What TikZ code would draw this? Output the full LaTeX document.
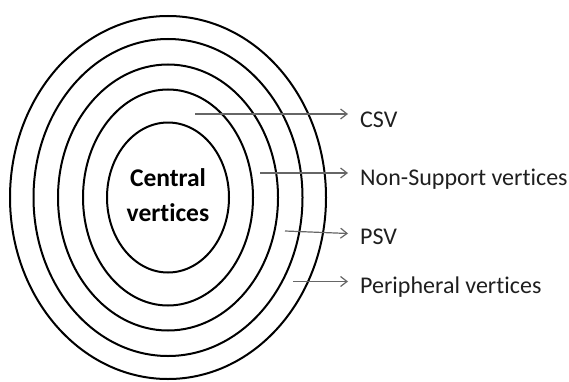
\documentclass[tikz,border=0pt]{standalone}
\usepackage{fontspec}
\setmainfont{Carlito}[Ligatures={NoCommon}]
\usetikzlibrary{arrows.meta}
\begin{document}
\begin{tikzpicture}[x=1pt,y=1pt,
  ring/.style={draw=black,line width=2pt},
  pointer/.style={draw=black!60,line width=1.2pt,-{Straight Barb[length=6.5pt,width=10pt,line width=1.2pt]}},
  lab/.style={anchor=base west,inner sep=0pt,font=\fontsize{24}{28}\selectfont,text=black!88}
]
\useasboundingbox (0,0) rectangle (569,381);
\coordinate (c) at (168,183.5);
\draw[ring] (c) ellipse [x radius=158,y radius=181.5];
\draw[ring] (c) ellipse [x radius=134.5,y radius=158.5];
\draw[ring] (c) ellipse [x radius=110,y radius=133];
\draw[ring] (c) ellipse [x radius=85,y radius=108];
\draw[ring] (c) ellipse [x radius=61,y radius=75];
\node[align=center,inner sep=0pt,font=\bfseries\fontsize{25.5}{35}\selectfont] (central) at (168,186) {Central\\vertices};

\node[lab] (csv) at (360,254) {CSV};
\node[lab] (nsv) at (360,196) {Non-Support vertices};
\node[lab] (psv) at (360,137) {PSV};
\node[lab] (pv) at (360,88) {Peripheral vertices};

\coordinate (s1) at (195,267);
\coordinate (e1) at (348,267);
\coordinate (s2) at (260,208);
\coordinate (e2) at (348,208);
\coordinate (s3) at (285,150);
\coordinate (e3) at (348,147.5);
\coordinate (s4) at (293,99.5);
\coordinate (e4) at (348,99.5);
\draw[pointer] (s1) -- (e1);
\draw[pointer] (s2) -- (e2);
\draw[pointer] (s3) -- (e3);
\draw[pointer] (s4) -- (e4);
\end{tikzpicture}
\end{document}
